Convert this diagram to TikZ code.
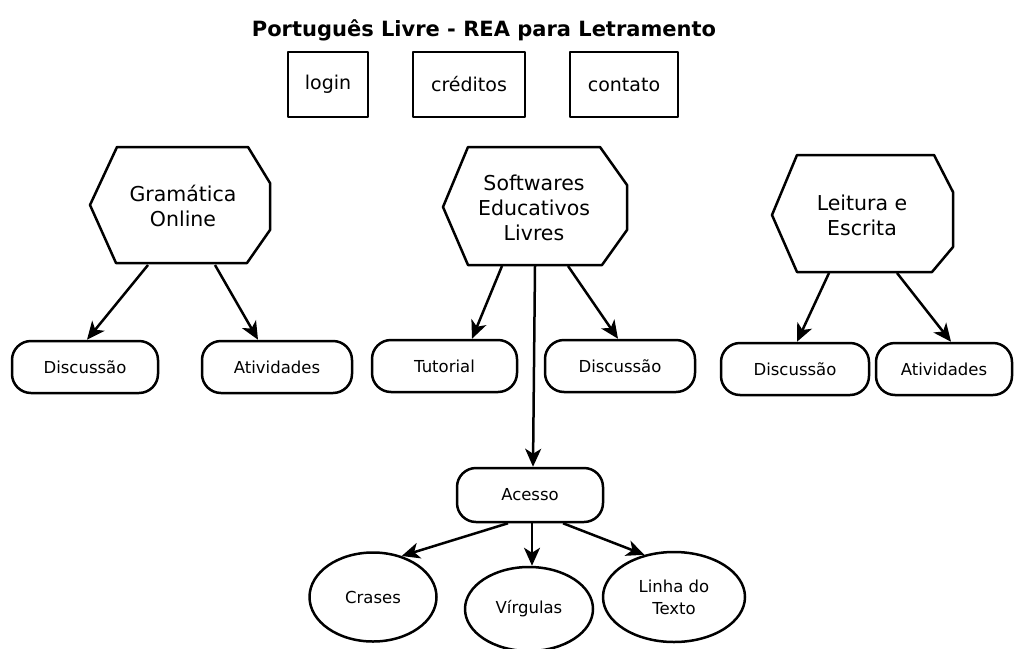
\documentclass[tikz,border=0pt]{standalone}
\usepackage{fontspec}
\setmainfont{DejaVu Sans}
\usetikzlibrary{arrows.meta,shapes.geometric,calc}
\begin{document}
\begin{tikzpicture}[x=1pt,y=-1pt,
  thick line/.style={line width=2.5pt, line join=round},
  topbox/.style={draw, thick line, inner sep=0pt, minimum height=65pt, font=\fontsize{19}{22}\selectfont},
  hexbox/.style={draw, thick line, fill=white},
  hextext/.style={align=center, inner sep=0pt, font=\fontsize{20.5}{25}\selectfont},
  pill/.style={draw, thick line, rounded corners=19pt, inner sep=0pt, minimum height=52pt, font=\fontsize{16.5}{20}\selectfont},
  oval/.style={draw, thick line, ellipse, inner sep=0pt, align=center, font=\fontsize{16.5}{22}\selectfont},
  arr/.style={line width=2.5pt, -{Stealth[length=18pt,width=16pt,inset=5pt]}}
]
\useasboundingbox[fill=white] (0,0) rectangle (1014,648);

% title
\node[font=\bfseries\fontsize{21}{25}\selectfont] (title) at (484,30) {Português Livre - REA para Letramento};

% top boxes
\node[topbox, minimum width=80pt] (login) at (328,84.5) {login};
\node[topbox, minimum width=112pt] (cred) at (469,84.5) {créditos};
\node[topbox, minimum width=108pt] (cont) at (624,84.5) {contato};

% hexagons
\draw[hexbox] (90,205) -- (117,147) -- (248,147) -- (270,183) -- (270,230) -- (247,263) -- (116,263) -- cycle;
\node[hextext] (gram) at (183,206) {Gramática\\Online};
\draw[hexbox] (443,207) -- (468,147) -- (600,147) -- (627,185) -- (627,230) -- (602,265) -- (468,265) -- cycle;
\node[hextext] (soft) at (534,208) {Softwares\\Educativos\\Livres};
\draw[hexbox] (772,215) -- (797,155) -- (934,155) -- (953,192) -- (953,247) -- (932,272) -- (797,272) -- cycle;
\node[hextext] (leit) at (862,215) {Leitura e\\Escrita};

% arrow starts on hexagon bottoms
\coordinate (g1) at (148,265);
\coordinate (g2) at (215,265);
\coordinate (s1) at (502,266);
\coordinate (s2) at (568,266);
\coordinate (s3) at (535,266);
\coordinate (l1) at (829,273);
\coordinate (l2) at (897,273);

% pills
\node[pill, minimum width=146pt] (d1) at (85,367) {Discussão};
\node[pill, minimum width=150pt] (a1) at (277,367) {Atividades};
\node[pill, minimum width=145pt] (tut) at (444.5,366) {Tutorial};
\node[pill, minimum width=150pt] (d2) at (620,366) {Discussão};
\node[pill, minimum width=148pt] (d3) at (795,369) {Discussão};
\node[pill, minimum width=136pt] (a3) at (944,369) {Atividades};
\node[pill, minimum width=146pt, minimum height=54pt] (ac) at (530,495) {Acesso};

% ellipses
\node[oval, minimum width=127pt, minimum height=89pt] (cr) at (373,597) {Crases};
\node[oval, minimum width=128pt, minimum height=84pt] (vi) at (529,609) {Vírgulas};
\node[oval, minimum width=142pt, minimum height=90pt] (li) at (674,597) {Linha do\\Texto};

% connectors
\draw[arr] (g1) -- ([xshift=2pt]d1.north);
\draw[arr] (g2) -- ([xshift=-19pt]a1.north);
\draw[arr] (s1) -- ([xshift=27.5pt]tut.north);
\draw[arr] (s2) -- ([xshift=-2pt]d2.north);
\draw[arr] (s3) -- ([xshift=3pt]ac.north);
\draw[arr] (l1) -- ([xshift=2pt]d3.north);
\draw[arr] (l2) -- ([xshift=7pt]a3.north);
\draw[arr] ([xshift=-22pt]ac.south) -- (cr.55);
\draw[arr] ([xshift=2pt]ac.south) -- ([xshift=3pt]vi.north);
\draw[arr] ([xshift=33pt]ac.south) -- (li.125);
\end{tikzpicture}
\end{document}
